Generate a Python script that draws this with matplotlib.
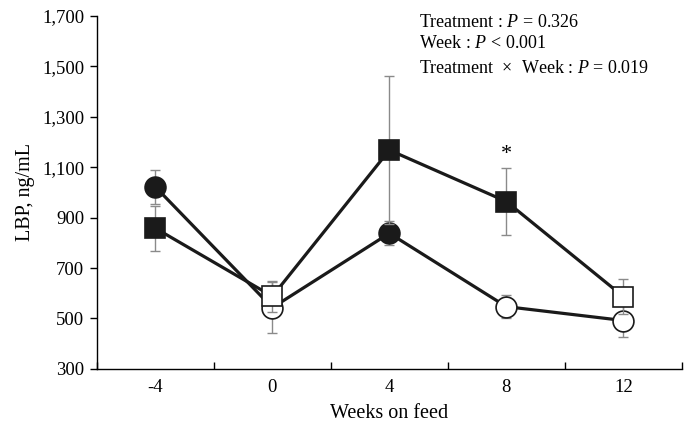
import numpy as np
import matplotlib.pyplot as plt
from matplotlib import ticker

plt.rcParams['font.family'] = ['Liberation Serif', 'DejaVu Serif']
plt.rcParams['mathtext.fontset'] = 'custom'
plt.rcParams['mathtext.it'] = 'Liberation Serif:italic'
plt.rcParams['mathtext.rm'] = 'Liberation Serif'

# data
weeks = ['-4', '0', '4', '8', '12']
circ_mean = [1022, 543, 838, 547, 492]
circ_se = [68, 102, 48, 45, 64]
circ_filled = [True, False, True, False, False]
sq_mean = [858, 588, 1168, 964, 587]
sq_se = [90, 62, 292, 133, 70]
sq_filled = [True, False, True, True, False]
star_week = 3  # index of the week marked with *

x = np.arange(len(weeks))

fig = plt.figure(figsize=(6.87, 4.26), dpi=100)
ax = fig.add_axes([0.141, 0.134, 0.8515, 0.8286])

for mean, se, filled, mk, z in [(circ_mean, circ_se, circ_filled, 'o', 3),
                                (sq_mean, sq_se, sq_filled, 's', 5)]:
    ax.errorbar(x, mean, yerr=se, fmt='none', ecolor='#8a8a8a', elinewidth=1.0,
                capsize=3.5, capthick=1.0, zorder=z - 1)
    ax.plot(x, mean, color='#1a1a1a', lw=2.3, zorder=z)
    for xi, yi, f in zip(x, mean, filled):
        ax.plot(xi, yi, marker=mk, ms=15,
                mfc='#1a1a1a' if f else 'white', mec='#1a1a1a', mew=1.2,
                ls='none', zorder=z + 0.5)

ax.text(star_week, 1150, '*', ha='center', va='center', fontsize=16)

ax.set_xlim(-0.5, len(weeks) - 0.5)
ax.set_ylim(300, 1700)
ax.set_yticks(np.arange(300, 1701, 200))
ax.yaxis.set_major_formatter(ticker.FuncFormatter(lambda v, p: '{:,.0f}'.format(v)))
ax.set_xticks(np.arange(-0.5, len(weeks), 1.0))
ax.set_xticklabels([])
ax.set_xticks(x, minor=True)
ax.set_xticklabels(weeks, minor=True)
ax.tick_params(axis='x', which='major', direction='in', length=5, width=1)
ax.tick_params(axis='x', which='minor', length=0, pad=7, labelsize=13.5)
ax.tick_params(axis='y', direction='out', length=5, width=1, pad=4, labelsize=13.5)

for s in ['top', 'right']:
    ax.spines[s].set_visible(False)
for s in ['left', 'bottom']:
    ax.spines[s].set_linewidth(1.0)

ax.set_xlabel('Weeks on feed', fontsize=14.5, labelpad=6)
ax.set_ylabel('LBP, ng/mL', fontsize=14.5, labelpad=5)

fig.text(0.61, 0.948, 'Treatment : $P$ = 0.326', fontsize=13, va='center')
fig.text(0.61, 0.899, 'Week : $P$ < 0.001', fontsize=13, va='center')
fig.text(0.61, 0.840, 'Treatment  $\\times$  Week : $P$ = 0.019', fontsize=13, va='center')

fig.savefig('out.png', dpi=100)
